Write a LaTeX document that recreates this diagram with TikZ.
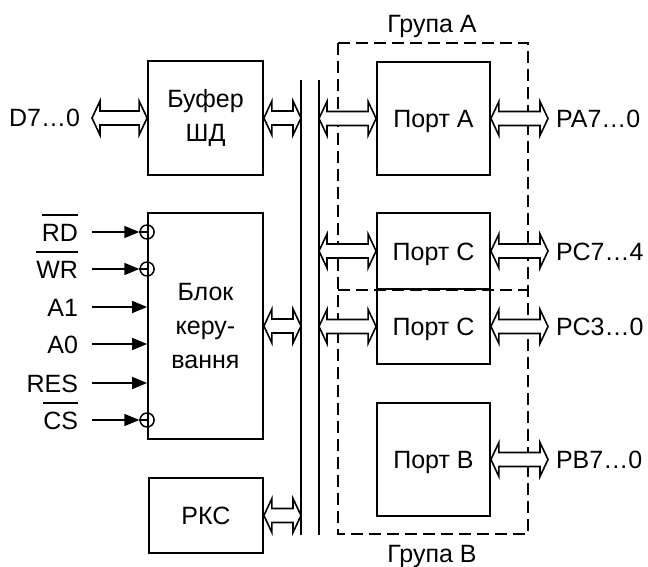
\documentclass[tikz,border=0pt]{standalone}
\usepackage{fontspec}
\setmainfont{Liberation Sans}
\usetikzlibrary{arrows.meta,calc}
\newcommand{\ovl}[1]{\setbox0\hbox{#1}\rlap{\rule[\dimexpr\ht0+8pt\relax]{\wd0}{1.6pt}}\box0}
\begin{document}
\begin{tikzpicture}[x=1pt,y=-1pt,
  every node/.style={font=\fontsize{25}{34}\selectfont},
  box/.style={draw, line width=1.8pt, align=center, inner sep=0pt},
  one/.style={text height=18pt, text depth=0pt},
  lbl/.style={inner sep=0pt, outer sep=0pt, text height=18pt, text depth=0pt},
  lft/.style={lbl, anchor=east, inner xsep=14pt},
  rgt/.style={lbl, anchor=west, inner xsep=8pt},
  inv/.style={circle, draw, line width=1.5pt, minimum size=14pt, inner sep=0pt},
  sig/.style={line width=1.6pt, -{Triangle[length=15pt,width=12pt]}},
  busline/.style={line width=1.8pt},
  grp/.style={line width=1.6pt, dash pattern=on 12pt off 6pt},
  dbl/.style={draw, line width=1.6pt, fill=white, line join=miter,
    to path={let \p1=(\tikztostart), \p2=(\tikztotarget) in
      (\x1,\y1) -- (\x1+8pt,\y1+17pt) -- (\x1+8pt,\y1+7pt) -- (\x2-8pt,\y1+7pt)
      -- (\x2-8pt,\y1+17pt) -- (\x2,\y1) -- (\x2-8pt,\y1-17pt) -- (\x2-8pt,\y1-7pt)
      -- (\x1+8pt,\y1-7pt) -- (\x1+8pt,\y1-17pt) -- cycle}}
]
\useasboundingbox (0,0) rectangle (648,567);

% group frame
\coordinate (gtl) at (338,43);
\coordinate (gbr) at (528,534);
\draw[grp] (gtl) rectangle (gbr);
\node[lbl] (ga) at (432,24) {Група А};
\node[lbl] (gb) at (432,553) {Група В};

% bus
\coordinate (b1t) at (301,80); \coordinate (b1b) at (301,535);
\coordinate (b2t) at (319,80); \coordinate (b2b) at (319,535);
\draw[busline] (b1t) -- (b1b);
\draw[busline] (b2t) -- (b2b);

% boxes
\node[box, minimum width=115pt, minimum height=114pt] (buf) at (205.5,118) {Буфер\\ШД};
\node[box, minimum width=115pt, minimum height=226pt] (blk) at (205.5,326) {Блок\\керу-\\вання};
\node[box, one, minimum width=114pt, minimum height=75pt] (rks) at (206,515.5) {РКС};
\node[box, one, minimum width=113pt, minimum height=113pt] (pa) at (433.5,118.5) {Порт A};
\node[box, one, minimum width=113pt, minimum height=76pt] (pc1) at (433.5,251) {Порт C};
\node[box, one, minimum width=113pt, minimum height=75pt] (pc2) at (433.5,326.5) {Порт C};
\node[box, one, minimum width=113pt, minimum height=113pt] (pb) at (433.5,459.5) {Порт B};

% separator inside group
\draw[grp] (gtl |- pc1.south) -- (gbr |- pc1.south);

% outer labels
\node[lft, inner xsep=12pt] (d7) at (92,118) {D7…0};
\node[rgt] (pal) at (548,118.5) {PA7…0};
\node[rgt] (pc1l) at (548,251) {PC7…4};
\node[rgt] (pc2l) at (548,326.5) {PC3…0};
\node[rgt] (pbl) at (548,459.5) {PB7…0};

% double arrows
\draw[dbl] (d7.east) to (buf.west);
\draw[dbl] (buf.east) to (buf.east -| b1t);
\draw[dbl] (blk.east) to (blk.east -| b1t);
\draw[dbl] (rks.east) to (rks.east -| b1t);
\draw[dbl] (pa.west -| b2t) to (pa.west);
\draw[dbl] (pc1.west -| b2t) to (pc1.west);
\draw[dbl] (pc2.west -| b2t) to (pc2.west);
\draw[dbl] (pa.east) to (pal.west);
\draw[dbl] (pc1.east) to (pc1l.west);
\draw[dbl] (pc2.east) to (pc2l.west);
\draw[dbl] (pb.east) to (pbl.west);

% control inputs
\node[lft] (rd) at (92,232) {\ovl{RD}};
\node[lft] (wr) at (92,269) {\ovl{WR}};
\node[lft] (a1) at (92,307) {A1};
\node[lft] (a0) at (92,344) {A0};
\node[lft] (res) at (92,383) {RES};
\node[lft] (cs) at (92,420) {\ovl{CS}};
\node[inv] (crd) at (rd -| blk.west) {};
\node[inv] (cwr) at (wr -| blk.west) {};
\node[inv] (ccs) at (cs -| blk.west) {};
\draw[sig] (rd.east) -- (crd.west);
\draw[sig] (wr.east) -- (cwr.west);
\draw[sig] (cs.east) -- (ccs.west);
\draw[line width=1.5pt] (crd.west) -- (crd.center);
\draw[line width=1.5pt] (cwr.west) -- (cwr.center);
\draw[line width=1.5pt] (ccs.west) -- (ccs.center);
\draw[sig] (a1.east) -- (a1.east -| blk.west);
\draw[sig] (a0.east) -- (a0.east -| blk.west);
\draw[sig] (res.east) -- (res.east -| blk.west);
\end{tikzpicture}
\end{document}
